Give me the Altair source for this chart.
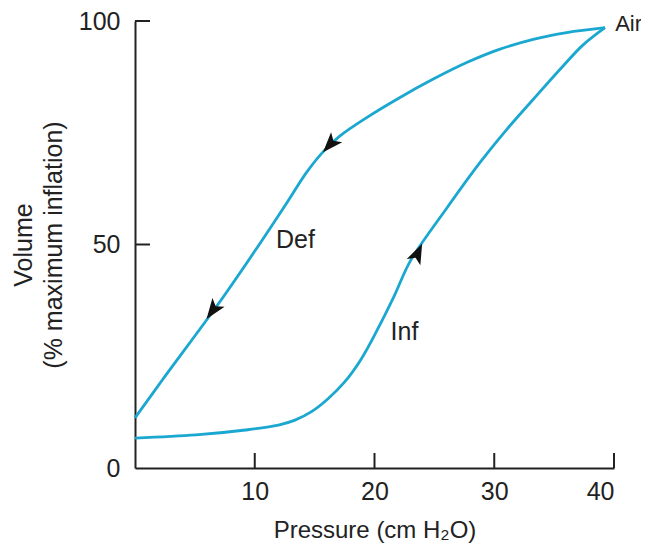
import altair as alt
import pandas as pd

# Deflation limb (from full inflation back to 0 cm H2O)
def_pressure = [39.25, 36.05, 33.26, 30.48, 27.7, 24.91, 22.13, 19.35, 17.12, 15.8, 14.4, 12.6, 10.05, 7.01, 2.34, 0.0]
def_volume = [98.5, 97.4, 95.9, 93.7, 90.7, 87.0, 82.9, 78.4, 74.3, 71.0, 66.4, 59.0, 48.7, 36.9, 19.9, 11.2]

# Inflation limb
inf_pressure = [0.0, 5.09, 9.23, 11.98, 13.36, 14.74, 16.12, 17.49, 18.87, 20.25, 21.63, 23.01, 26.0, 28.8, 31.0, 33.3, 35.5, 37.4, 39.25]
inf_volume = [6.7, 7.4, 8.5, 9.6, 10.7, 12.6, 15.5, 19.2, 24.3, 31.0, 38.4, 46.4, 58.0, 68.3, 75.6, 82.6, 89.2, 94.6, 98.5]

# Direction arrows on the curves
arrow_pressure = [16.3, 6.5, 23.6]
arrow_volume = [72.4, 35.3, 48.0]
arrow_angle = [222, 216, 25]

# Labels
label_text = ["Air", "Def", "Inf"]
label_pressure = [40.1, 13.4, 22.5]
label_volume = [99.3, 50.9, 30.4]

x_ticks = [10, 20, 30, 40]
y_ticks = [0, 50, 100]
y_inner_ticks = [50, 100]

FONT = "Liberation Sans"
CURVE = "#1aa7d0"
INK = "#222222"

W, H = 479, 447

curves = pd.DataFrame({
    "p": def_pressure + inf_pressure,
    "v": def_volume + inf_volume,
    "limb": ["Def"] * len(def_pressure) + ["Inf"] * len(inf_pressure),
    "i": list(range(len(def_pressure))) + list(range(len(inf_pressure))),
})
arrows = pd.DataFrame({"p": arrow_pressure, "v": arrow_volume, "a": arrow_angle})
labels = pd.DataFrame({"t": label_text, "p": label_pressure, "v": label_volume})

xs = alt.Scale(domain=[0, 40], nice=False, zero=False)
ys = alt.Scale(domain=[0, 100], nice=False, zero=False)

x_axis = alt.Axis(values=x_ticks, title="Pressure (cm H₂O)", grid=False, ticks=False,
                  domainColor=INK, domainWidth=2, labelFont=FONT, labelFontSize=25,
                  labelColor=INK, labelPadding=11, titleFont=FONT, titleFontSize=24,
                  titleFontWeight="normal", titleColor=INK, titlePadding=14)
y_axis = alt.Axis(values=y_ticks, title=["Volume", "(% maximum inflation)"], grid=False,
                  ticks=False, domainColor=INK, domainWidth=2, labelFont=FONT,
                  labelFontSize=25, labelColor=INK, labelPadding=15, titleFont=FONT,
                  titleFontSize=25, titleFontWeight="normal", titleColor=INK,
                  titlePadding=12, titleLineHeight=30)

lines = alt.Chart(curves).mark_line(strokeWidth=2.8, color=CURVE, interpolate="catmull-rom").encode(
    x=alt.X("p:Q", scale=xs, axis=x_axis),
    y=alt.Y("v:Q", scale=ys, axis=y_axis),
    detail="limb:N",
    order="i:Q",
)

ARROW = "M0,-1L0.7,0.9L0,0.45L-0.7,0.9Z"
arrow_layers = []
for k in range(len(arrow_angle)):
    arrow_layers.append(
        alt.Chart(arrows.iloc[[k]]).mark_point(shape=ARROW, filled=True, color="#111111",
                                                 opacity=1, size=460, angle=arrow_angle[k]).encode(
            x=alt.X("p:Q", scale=xs), y=alt.Y("v:Q", scale=ys))
    )

air_text = alt.Chart(labels.iloc[[0]]).mark_text(font=FONT, fontSize=22, color=INK, align="left").encode(
    x=alt.X("p:Q", scale=xs), y=alt.Y("v:Q", scale=ys), text="t:N")
limb_text = alt.Chart(labels.iloc[1:]).mark_text(font=FONT, fontSize=25, color=INK, align="center").encode(
    x=alt.X("p:Q", scale=xs), y=alt.Y("v:Q", scale=ys), text="t:N")

xtick_df = pd.DataFrame({"p": x_ticks})
xticks = alt.Chart(xtick_df).mark_rule(color=INK, strokeWidth=2).encode(
    x=alt.X("p:Q", scale=xs), y=alt.value(H), y2=alt.value(H - 15))

ytick_df = pd.DataFrame({"v": y_inner_ticks})
yticks = alt.Chart(ytick_df).mark_rule(color=INK, strokeWidth=2).encode(
    y=alt.Y("v:Q", scale=ys), x=alt.value(0), x2=alt.value(15))

chart = alt.layer(lines, *arrow_layers, air_text, limb_text, xticks, yticks).properties(
    width=W, height=H,
    autosize=alt.AutoSizeParams(type="none"),
    padding={"left": 127, "top": 13, "right": 27, "bottom": 76},
    background="white",
).configure_view(stroke=None)

chart.save("out.html", embed_options={"renderer": "svg", "actions": False})
